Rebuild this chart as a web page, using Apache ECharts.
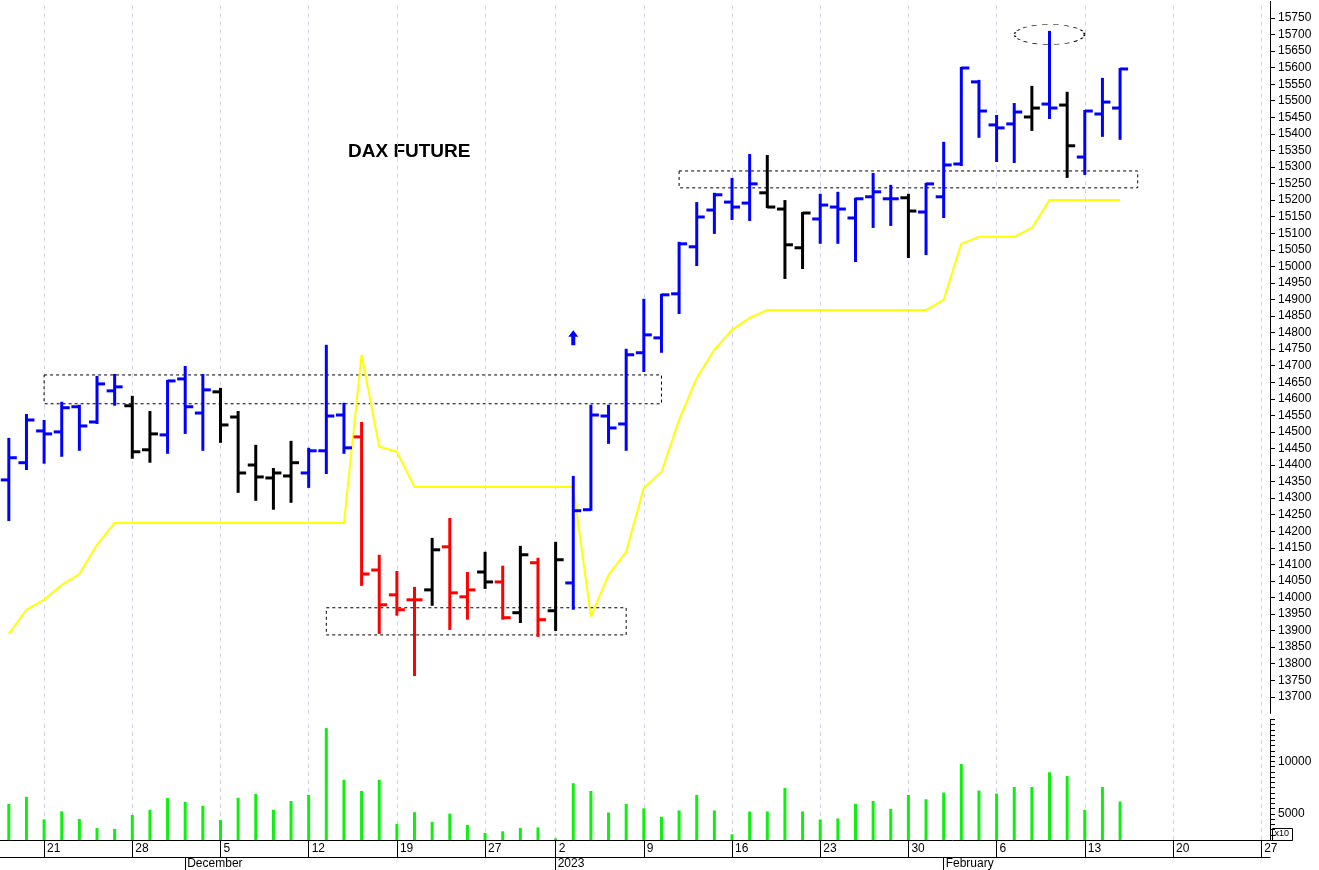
<!DOCTYPE html>
<html><head><meta charset="utf-8">
<script src="https://cdn.jsdelivr.net/npm/echarts@6/dist/echarts.min.js"></script>
<style>html,body{margin:0;padding:0;background:#fff}#c{width:1319px;height:870px}</style>
</head><body><div id="c"></div>
<script>
const days = ['2022-11-17','2022-11-18','2022-11-21','2022-11-22','2022-11-23','2022-11-24','2022-11-25','2022-11-28','2022-11-29','2022-11-30',
'2022-12-01','2022-12-02','2022-12-05','2022-12-06','2022-12-07','2022-12-08','2022-12-09','2022-12-12','2022-12-13','2022-12-14','2022-12-15','2022-12-16',
'2022-12-19','2022-12-20','2022-12-21','2022-12-22','2022-12-23','2022-12-27','2022-12-28','2022-12-29','2022-12-30',
'2023-01-02','2023-01-03','2023-01-04','2023-01-05','2023-01-06','2023-01-09','2023-01-10','2023-01-11','2023-01-12','2023-01-13',
'2023-01-16','2023-01-17','2023-01-18','2023-01-19','2023-01-20','2023-01-23','2023-01-24','2023-01-25','2023-01-26','2023-01-27','2023-01-30','2023-01-31',
'2023-02-01','2023-02-02','2023-02-03','2023-02-06','2023-02-07','2023-02-08','2023-02-09','2023-02-10','2023-02-13','2023-02-14','2023-02-15',
'2023-02-16','2023-02-17','2023-02-20','2023-02-21','2023-02-22','2023-02-23','2023-02-24','2023-02-27'];
const open  = [14355,14407,14503,14500,14576,14530,14624,14579,14446,14491,14660,14557,14621,14545,14400,14361,14367,14376,14443,14551,14485,14083,14008,13993,14023,14153,14002,14077,14047,13954,14105,13960,14044,14265,14548,14524,14739,14784,14917,15059,15170,15194,15191,15222,15173,15056,15143,15179,15146,15210,15204,15207,15164,15210,15309,15557,15427,15430,15451,15490,15487,15330,15460,15478];
const high  = [14479,14551,14533,14588,14579,14666,14672,14606,14560,14654,14696,14672,14630,14560,14458,14388,14470,14449,14760,14585,14527,14126,14077,14029,14177,14237,14074,14135,14093,14153,14117,14165,14364,14579,14579,14748,14899,14914,15071,15191,15219,15264,15336,15333,15197,15161,15216,15222,15204,15279,15243,15216,15249,15373,15599,15560,15454,15490,15542,15708,15524,15469,15566,15596];
const low   = [14234,14388,14407,14428,14446,14527,14582,14422,14410,14437,14497,14446,14470,14319,14295,14268,14289,14334,14376,14437,14038,13893,13948,13766,13978,13905,13936,14029,13936,13926,13884,13902,13966,14265,14467,14446,14684,14742,14859,15004,15101,15143,15140,15179,14965,14995,15071,15071,15016,15119,15125,15028,15037,15149,15306,15391,15318,15315,15412,15448,15270,15279,15394,15385];
const close = [14422,14536,14494,14573,14518,14645,14636,14440,14494,14654,14576,14627,14521,14376,14364,14376,14407,14443,14548,14452,14071,13978,13963,13993,14144,14014,14023,14047,13939,14129,13933,14114,14262,14551,14512,14733,14793,14914,15068,15149,15216,15179,15249,15179,15065,15161,15185,15173,15204,15225,15204,15167,15249,15306,15599,15469,15418,15466,15478,15478,15364,15469,15496,15596];
const barColor = ['b','b','b','b','b','b','b','k','k','b','b','b','k','k','k','k','k','b','b','b','r','r','r','r','k','r','r','k','r','k','r','k','b','b','b','b','b','b','b','b','b','b','b','k','k','k','b','b','b','b','b','k','b','b','b','b','b','b','k','b','k','b','b','b'];
const stopLine = [13890,13963,13993,14038,14071,14159,14225,14225,14225,14225,14225,14225,14225,14225,14225,14225,14225,14225,14225,14225,14733,14455,14440,14334,14334,14334,14334,14334,14334,14334,14334,14334,14334,13942,14068,14138,14331,14379,14536,14663,14748,14808,14844,14868,14868,14868,14868,14868,14868,14868,14868,14868,14868,14899,15068,15089,15089,15089,15116,15200,15200,15200,15200,15200];
const volume = [5950,6620,4470,5240,4500,3640,3550,4900,5390,6500,6130,5760,4410,6530,6900,5390,6220,6810,13175,8250,7180,8250,4040,5150,4220,5020,3950,3180,3330,3640,3700,2650,7920,7180,5120,5950,5520,4720,5320,6800,5320,3040,5220,5220,7470,5220,4460,4560,5950,6230,5470,6800,6390,7030,9750,7220,6930,7560,7560,8960,8610,5380,7560,6170];
const monthNames = {'2022-12':'December','2023-01':'2023','2023-02':'February'};
const title = 'DAX FUTURE';
const resistanceBoxes = [[2,14672,37,14585],[18,13969,35,13887],[38,15288,64,15237]];
const peakMark = [59,15700];
const arrowMark = [32,14784];

const DAY = 86400000;
const t = days.map(d => new Date(d+'T00:00:00Z').getTime());
const weekStart = i => i > 0 && (t[i]-t[i-1]) > DAY;
const monthStart = i => i > 0 && days[i].slice(0,7) !== days[i-1].slice(0,7);
const weekDays = days.filter((d,i)=>weekStart(i));
const colMap = {b:'#0000ff', k:'#000000', r:'#ff0000'};
const ohlc = open.map((o,i)=>[i,o,high[i],low[i],close[i]]);
const FONT = 'Liberation Sans';
const gridLines = {silent:true,symbol:'none',label:{show:false},lineStyle:{color:'#d0d0ec',type:[4,4],width:1},data:weekDays.map(d=>({xAxis:d}))};

const chart = echarts.init(document.getElementById('c'));
chart.setOption({
  animation:false,
  backgroundColor:'#fff',
  grid:[{left:0,right:49,top:1.4,height:712},{left:0,right:49,top:719.5,height:122}],
  xAxis:[
    {type:'category',gridIndex:0,data:days,boundaryGap:true,axisLine:{show:false},axisTick:{show:false},axisLabel:{show:false},splitLine:{show:false}},
    {type:'category',gridIndex:1,data:days,boundaryGap:true,position:'bottom',axisLine:{lineStyle:{color:'#000'}},
     axisTick:{show:true,alignWithLabel:true,interval:(i)=>weekStart(i),length:17,lineStyle:{color:'#000'}},
     axisLabel:{interval:(i)=>weekStart(i),formatter:v=>String(+v.slice(8)),align:'left',padding:[0,0,0,3],margin:3,fontFamily:FONT,fontSize:12,color:'#000'},
     splitLine:{show:false}},
    {type:'category',gridIndex:1,data:days,boundaryGap:true,position:'bottom',offset:17,axisLine:{lineStyle:{color:'#000'}},
     axisTick:{show:true,alignWithLabel:true,interval:(i)=>monthStart(i),length:14,lineStyle:{color:'#000'}},
     axisLabel:{interval:(i)=>monthStart(i),formatter:v=>monthNames[v.slice(0,7)]||'',align:'left',padding:[0,0,0,2],margin:1,fontFamily:FONT,fontSize:12,color:'#000'}}
  ],
  yAxis:[
    {type:'value',gridIndex:0,position:'right',min:13650,max:15800,interval:50,
     axisLine:{show:true,lineStyle:{color:'#000'}},axisTick:{show:true,length:5,lineStyle:{color:'#000'}},
     axisLabel:{showMinLabel:false,showMaxLabel:false,formatter:v=>String(v),margin:8,fontFamily:FONT,fontSize:12,color:'#000'},splitLine:{show:false}},
    {type:'value',gridIndex:1,position:'right',min:2500,max:14000,interval:500,
     axisLine:{show:true,lineStyle:{color:'#000'}},axisTick:{show:true,length:5,lineStyle:{color:'#000'}},
     axisLabel:{formatter:v=>(v%5000===0?String(v):''),margin:8,fontFamily:FONT,fontSize:12,color:'#000'},splitLine:{show:false}}
  ],
  graphic:[
    {type:'text',left:348,top:142,style:{text:title,font:'bold 19px "Liberation Sans"',fill:'#000'}},
    {type:'group',left:1272,top:828,children:[
      {type:'rect',shape:{x:0,y:0,width:20,height:12},style:{fill:'#fff',stroke:'#000',lineWidth:1}},
      {type:'text',x:2,y:1,style:{text:'x10',font:'9px "Liberation Sans"',fill:'#000'}}]}
  ],
  series:[
    {type:'line',xAxisIndex:0,yAxisIndex:0,data:[],silent:true,z:0,markLine:Object.assign({z:0},gridLines)},
    {type:'line',xAxisIndex:1,yAxisIndex:1,data:[],silent:true,z:0,markLine:Object.assign({z:0},gridLines)},
    {type:'line',xAxisIndex:0,yAxisIndex:0,data:stopLine,symbol:'none',lineStyle:{color:'#ffff00',width:2},silent:true,z:2,
     markArea:{silent:true,itemStyle:{color:'rgba(0,0,0,0)',borderColor:'#000',borderWidth:1,borderType:[3,3]},
       data:resistanceBoxes.map(b=>[{coord:[days[b[0]],b[1]]},{coord:[days[b[2]],b[3]]}])},
     markPoint:{silent:true,label:{show:false},data:[
       {coord:[days[peakMark[0]],peakMark[1]],symbol:'circle',symbolSize:[70,20],itemStyle:{color:'rgba(0,0,0,0)',borderColor:'#000',borderWidth:1,borderType:[3,3]}},
       {coord:[days[arrowMark[0]],arrowMark[1]],symbol:'path://M5,0 L10,6 L7,6 L7,14 L3,14 L3,6 L0,6 Z',symbolSize:[10,15],itemStyle:{color:'#0000ff'}}
     ]}},
    {type:'custom',xAxisIndex:0,yAxisIndex:0,data:ohlc,z:10,
     renderItem:(params,api)=>{
       const i=api.value(0);
       const o=api.coord([i,api.value(1)]),h=api.coord([i,api.value(2)]),l=api.coord([i,api.value(3)]),c=api.coord([i,api.value(4)]);
       const st={stroke:colMap[barColor[i]],lineWidth:3};
       return {type:'group',children:[
         {type:'line',shape:{x1:h[0],y1:h[1]-1,x2:l[0],y2:l[1]+1},style:st},
         {type:'line',shape:{x1:o[0]-8,y1:o[1],x2:o[0],y2:o[1]},style:st},
         {type:'line',shape:{x1:c[0],y1:c[1],x2:c[0]+8,y2:c[1]},style:st}]};
     }},
    {type:'bar',xAxisIndex:1,yAxisIndex:1,data:volume,barWidth:3,itemStyle:{color:'#11ee11'},silent:true,z:10}
  ]
});
</script></body></html>
